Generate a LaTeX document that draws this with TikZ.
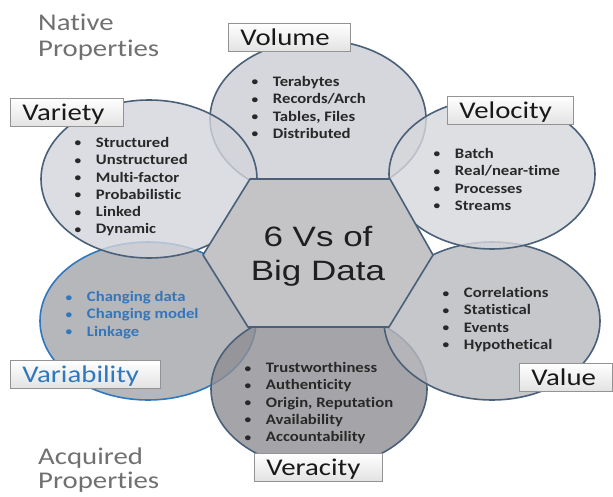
\documentclass[tikz,border=0pt]{standalone}
\usepackage{fontspec}
\setmainfont[Ligatures=NoCommon]{Carlito}
\newfontfamily\titlefont{Liberation Sans}
\usepackage{graphicx}
\usetikzlibrary{shapes.geometric}
\definecolor{edgec}{RGB}{74,96,121}
\definecolor{varblue}{RGB}{46,120,191}
\definecolor{varitext}{RGB}{52,118,186}
\definecolor{volc}{RGB}{204,205,211}
\definecolor{velc}{RGB}{214,215,220}
\definecolor{vrtc}{RGB}{211,213,219}
\definecolor{vblc}{RGB}{164,165,170}
\definecolor{verc}{RGB}{143,143,147}
\definecolor{valc}{RGB}{184,185,190}
\definecolor{hexc}{RGB}{196,196,199}
\definecolor{txtc}{RGB}{40,40,40}
\definecolor{propc}{RGB}{112,112,112}
\newcommand{\bul}{\makebox[18.5pt][l]{\raisebox{0.5pt}{\scalebox{0.8}{\textbullet}}}}
\newcommand{\blist}[1]{\scalebox{1.15}[1]{\begin{tabular}[t]{@{}l@{}}#1\end{tabular}}}
\newcommand{\wid}[1]{\scalebox{1.2}[1]{#1}}
\tikzset{
  ell/.style={ellipse, draw=edgec, line width=1.6pt, fill opacity=0.8, minimum width=216pt, minimum height=158pt, inner sep=0pt},
  lbl/.style={rectangle, draw=gray!85, line width=0.8pt, top color=white, bottom color=gray!22, align=left, inner xsep=12pt, minimum height=28pt, text height=15.5pt, text depth=0pt, anchor=north west, font=\fontsize{24}{28}\selectfont, text=black!90},
  blst/.style={inner sep=0pt, anchor=base west, font=\fontsize{14.5}{17.3}\selectfont\bfseries, text=txtc},
  prop/.style={inner sep=0pt, anchor=base west, font=\fontsize{24}{26}\selectfont, text=propc}
}
\begin{document}
\begin{tikzpicture}[x=1pt,y=-1pt]
\useasboundingbox (0,0) rectangle (613,497);
% ellipses
\node[ell, fill=vblc, draw=varblue] (varibE) at (148,321) {};
\node[ell, fill=verc] (veraE) at (319,389) {};
\node[ell, fill=valc] (valE) at (492,321) {};
\node[ell, fill=volc] (volE) at (318,119) {};
\node[ell, fill=velc, minimum width=206pt, minimum height=150pt] (velE) at (492,174) {};
\node[ell, fill=vrtc] (varE) at (149,179) {};
% hexagon
\coordinate (h1) at (250,179);
\coordinate (h2) at (390,179);
\coordinate (h3) at (433,255);
\coordinate (h4) at (389,327);
\coordinate (h5) at (248,327);
\coordinate (h6) at (203,255);
\draw[fill=hexc, draw=edgec, line width=1.6pt, line join=round] (h1) -- (h2) -- (h3) -- (h4) -- (h5) -- (h6) -- cycle;
\node[inner sep=0pt, anchor=base, font=\titlefont\fontsize{28}{33}\selectfont, text=black!88] (title) at (318,247)
  {\scalebox{1.25}[1]{\begin{tabular}[t]{@{}c@{}}6 Vs of\\Big Data\end{tabular}}};
% bullet lists
\node[blst] (volB) at (251.5,86.5) {\blist{\bul Terabytes\\ \bul Records/Arch\\ \bul Tables, Files\\ \bul Distributed}};
\node[blst] (velB) at (433.5,158.5) {\blist{\bul Batch\\ \bul Real/near-time\\ \bul Processes\\ \bul Streams}};
\node[blst] (varB) at (74.5,147.5) {\blist{\bul Structured\\ \bul Unstructured\\ \bul Multi-factor\\ \bul Probabilistic\\ \bul Linked\\ \bul Dynamic}};
\node[blst, text=varitext] (varibB) at (65.5,301.5) {\blist{\bul Changing data\\ \bul Changing model\\ \bul Linkage}};
\node[blst] (veraB) at (244.5,372.5) {\blist{\bul Trustworthiness\\ \bul Authenticity\\ \bul Origin, Reputation\\ \bul Availability\\ \bul Accountability}};
\node[blst] (valB) at (442.5,297.5) {\blist{\bul Correlations\\ \bul Statistical\\ \bul Events\\ \bul Hypothetical}};
% labels
\node[lbl, text width=98pt] (volL) at (228,23) {\wid{Volume}};
\node[lbl, text width=102pt] (velL) at (447,96) {\wid{Velocity}};
\node[lbl, text width=89pt] (varL) at (10,98) {\wid{Variety}};
\node[lbl, text width=126pt, text=varblue] (varibL) at (10,360) {\wid{Variability}};
\node[lbl, text width=104pt] (veraL) at (254,453) {\wid{Veracity}};
\node[lbl, text width=69pt] (valL) at (519,363) {\wid{Value}};
% properties
\node[prop] (nat1) at (38,31) {\wid{Native}};
\node[prop] (nat2) at (38,57) {\wid{Properties}};
\node[prop] (acq1) at (38,464) {\wid{Acquired}};
\node[prop] (acq2) at (38,488) {\wid{Properties}};
\end{tikzpicture}
\end{document}
